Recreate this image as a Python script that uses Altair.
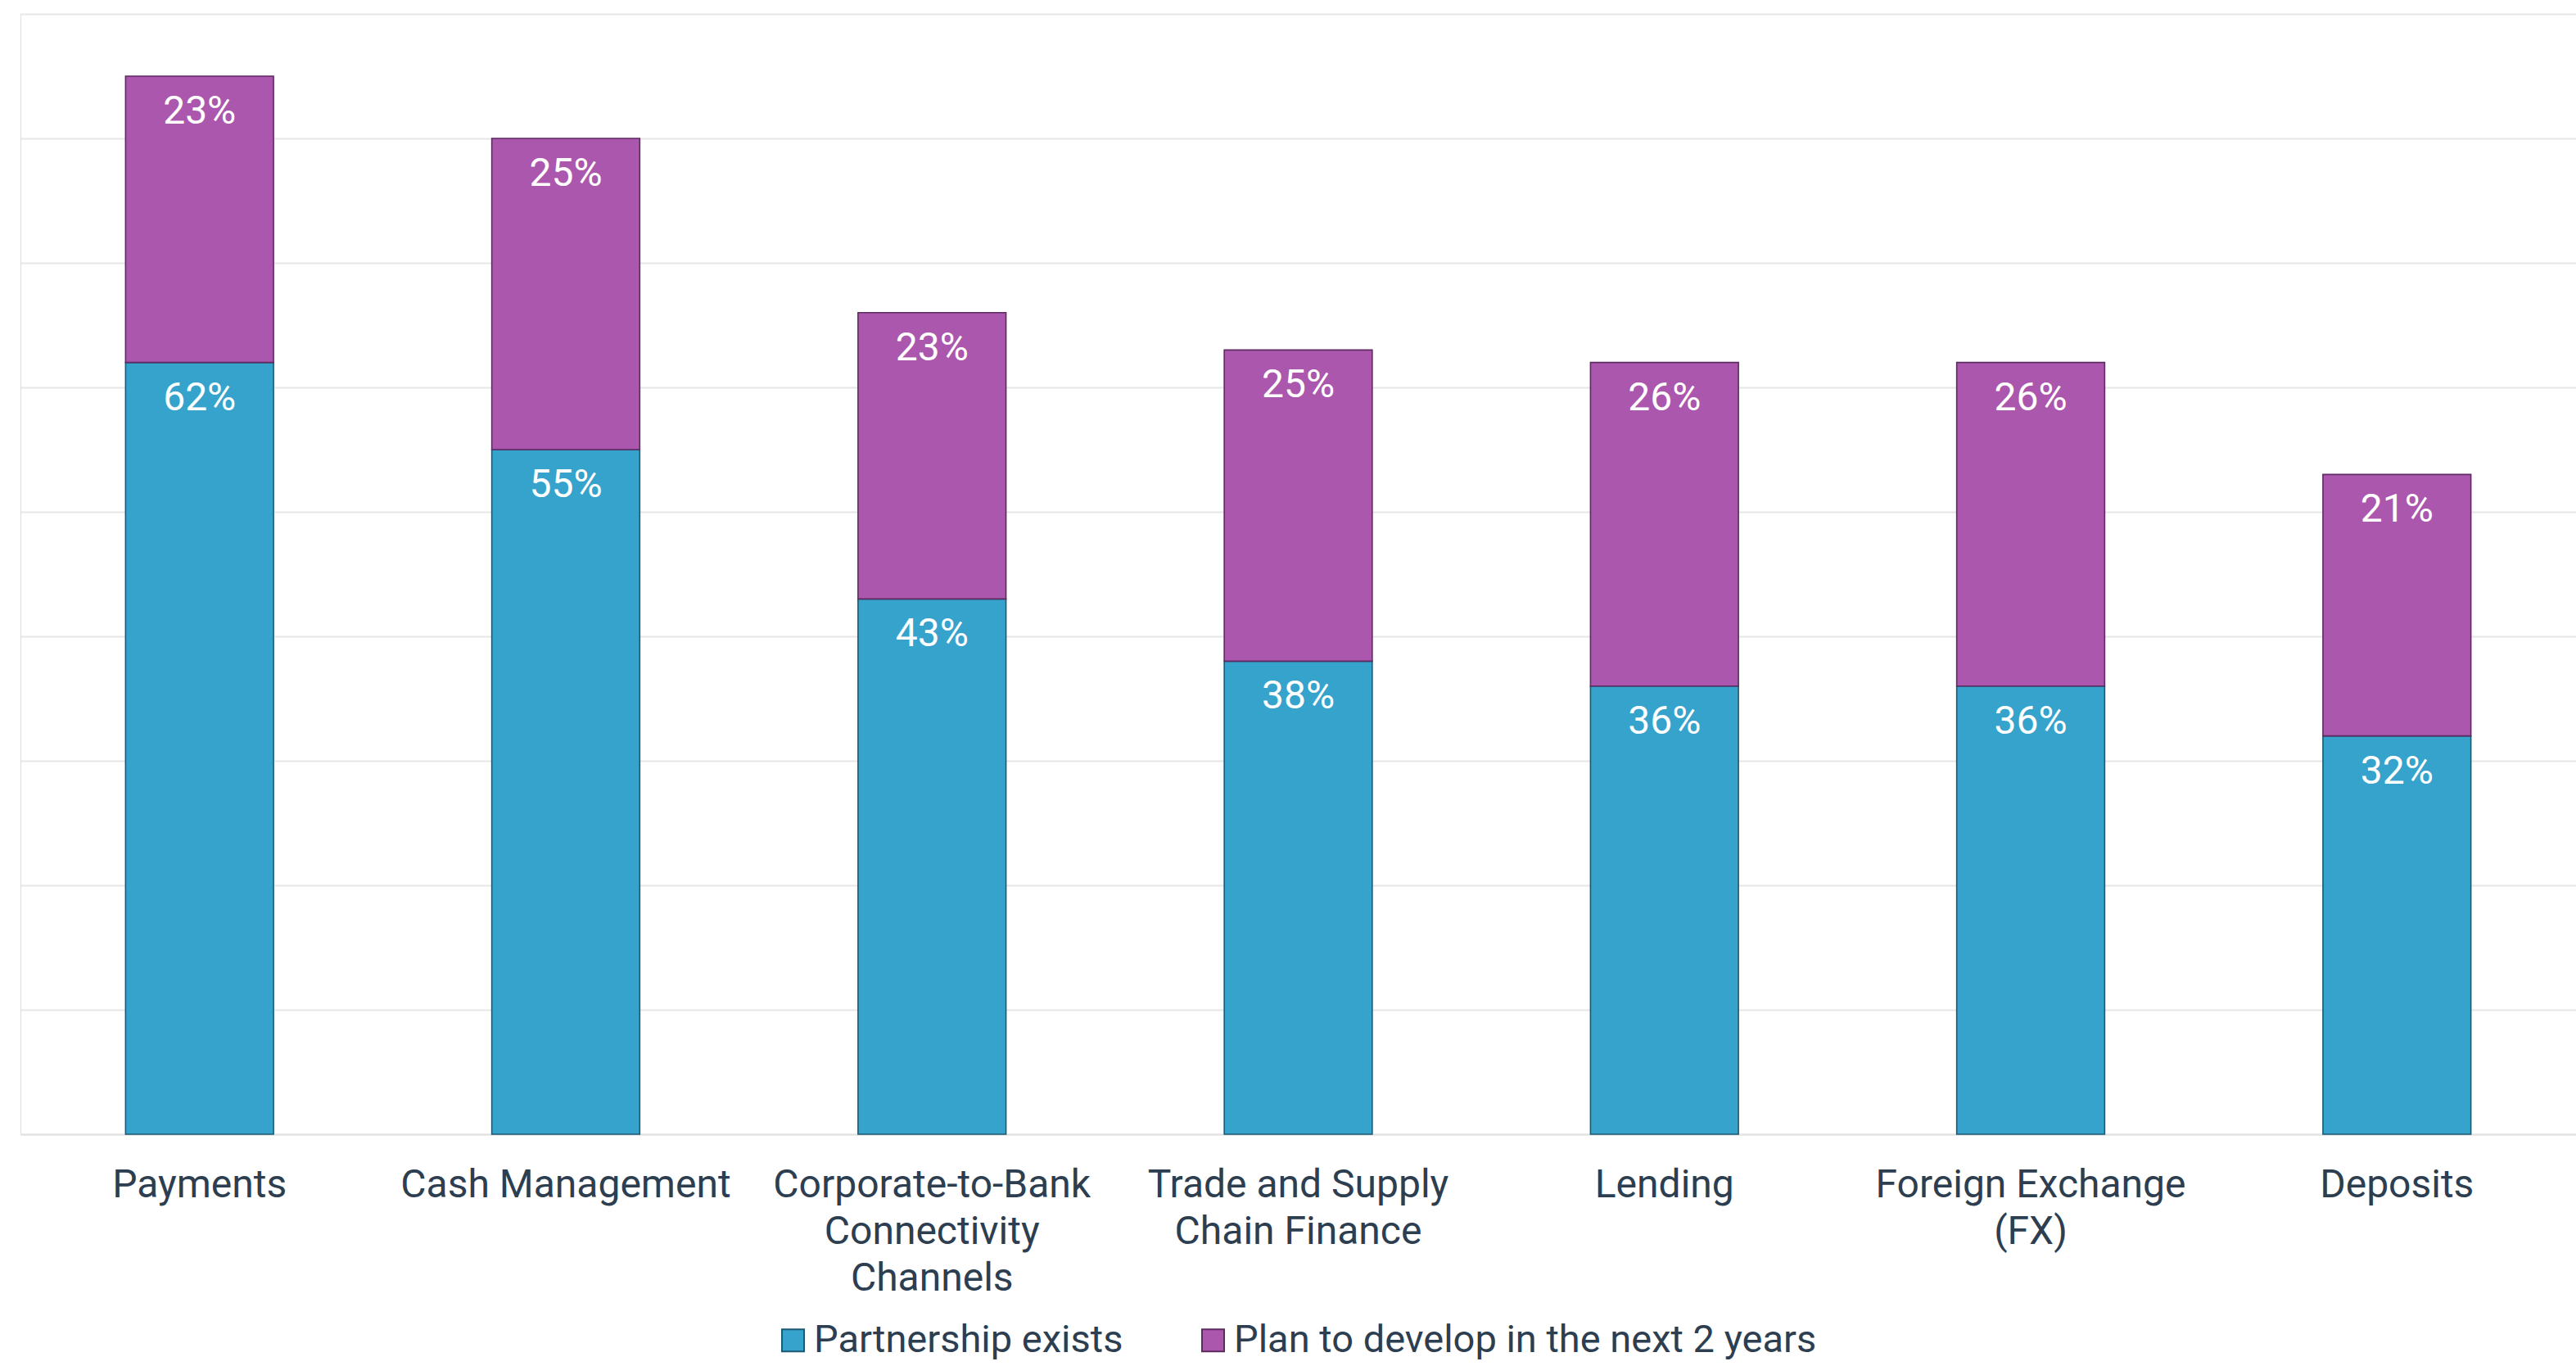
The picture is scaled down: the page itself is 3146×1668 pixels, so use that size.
import altair as alt
import pandas as pd

categories = [
    "Payments",
    "Cash Management",
    "Corporate-to-Bank\nConnectivity\nChannels",
    "Trade and Supply\nChain Finance",
    "Lending",
    "Foreign Exchange\n(FX)",
    "Deposits",
]
partnership_exists = [62, 55, 43, 38, 36, 36, 32]
plan_to_develop = [23, 25, 23, 25, 26, 26, 21]
series_names = ["Partnership exists", "Plan to develop in the next 2 years"]
series_colors = ["#36A3CC", "#AB57AD"]
series_strokes = ["#1C5A72", "#5E2A62"]

rows = []
for i, c in enumerate(categories):
    p = partnership_exists[i]
    q = plan_to_develop[i]
    rows.append({"category": c, "series": series_names[0], "value": p,
                 "start": 0, "end": p, "order": 0, "label": f"{p}%"})
    rows.append({"category": c, "series": series_names[1], "value": q,
                 "start": p, "end": p + q, "order": 1, "label": f"{q}%"})
df = pd.DataFrame(rows)

FONT = "Roboto"
TEXT_COLOR = "#2C3E50"

x_enc = alt.X(
    "category:N",
    sort=categories,
    scale=alt.Scale(paddingInner=0.596, paddingOuter=0.287),
    axis=alt.Axis(
        title=None,
        labelExpr="split(datum.label, '\\n')",
        labelFontSize=48,
        labelFont=FONT,
        labelColor=TEXT_COLOR,
        labelLineHeight=57,
        labelPadding=38,
        labelAngle=0,
        labelLimit=0,
        ticks=False,
        domain=True,
        domainColor="#E2E2E2",
        domainWidth=2,
        grid=False,
    ),
)

bars = alt.Chart(df).mark_bar(strokeWidth=1.6).encode(
    x=x_enc,
    y=alt.Y(
        "start:Q",
        scale=alt.Scale(domain=[0, 90], nice=False),
        axis=alt.Axis(
            title=None, labels=False, ticks=False, domain=False,
            values=list(range(0, 91, 10)),
            grid=True, gridColor="#E6E6E6", gridWidth=2,
        ),
    ),
    y2="end:Q",
    color=alt.Color(
        "series:N",
        scale=alt.Scale(domain=series_names, range=series_colors),
        legend=alt.Legend(
            title=None,
            orient="none",
            legendX=920,
            legendY=1596,
            direction="horizontal",
            labelFont=FONT,
            labelFontSize=47,
            labelColor=TEXT_COLOR,
            labelLimit=0,
            symbolType="square",
            symbolSize=729,
            symbolStrokeWidth=2,
            labelOffset=2,
            columnPadding=86,
        ),
    ),
    stroke=alt.Stroke(
        "series:N",
        scale=alt.Scale(domain=series_names, range=series_strokes),
        legend=None,
    ),
    order="order:Q",
)

labels = alt.Chart(df).mark_text(
    font=FONT, fontSize=48, color="white", baseline="alphabetic", dy=58,
).encode(
    x=alt.X("category:N", sort=categories),
    y=alt.Y("end:Q"),
    text="label:N",
)

chart = alt.layer(bars, labels).properties(
    width=3121,
    height=1368,
    autosize=alt.AutoSizeParams(type="none"),
    padding={"left": 25, "top": 17, "right": 0, "bottom": 281},
).configure_view(stroke=None).configure(background="white")

chart.save("out.html", embed_options={"renderer": "svg", "actions": False})
